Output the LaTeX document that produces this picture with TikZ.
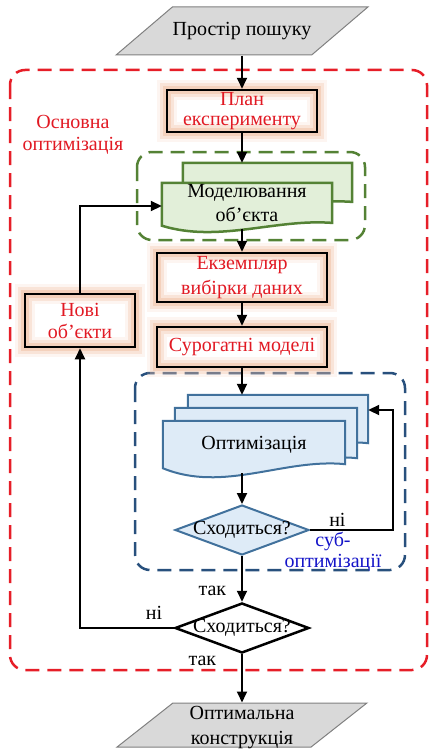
\documentclass[tikz,border=0pt]{standalone}
\usepackage{fontspec}
\setmainfont{Liberation Serif}
\usetikzlibrary{shapes.geometric,arrows.meta,calc}
\pgfdeclarelayer{background}
\pgfsetlayers{background,main}

\definecolor{glow}{RGB}{240,190,160}
\definecolor{redtxt}{RGB}{225,25,35}
\definecolor{reddash}{RGB}{230,30,40}
\definecolor{grayfill}{RGB}{217,217,217}
\definecolor{grayline}{RGB}{128,128,128}
\definecolor{greenfill}{RGB}{226,239,217}
\definecolor{greenline}{RGB}{84,130,53}
\definecolor{bluefill}{RGB}{222,235,247}
\definecolor{blueline}{RGB}{65,113,156}
\definecolor{bluedash}{RGB}{40,80,125}
\definecolor{subblue}{RGB}{20,20,200}

\newcommand{\docpath}[3]{%
  \path[#3] (#1.north west) -- (#1.north east) -- ($(#1.south east)+(0pt,0.9*#2pt)$)
    .. controls ($(#1.south west)!0.667!(#1.south east)+(0pt,1.53*#2pt)$)
    and ($(#1.south west)!0.333!(#1.south east)+(0pt,-2*#2pt)$)
    .. ($(#1.south west)+(0pt,0.5*#2pt)$) -- cycle;}
\newcommand{\lead}[1]{\fontsize{20}{#1}\selectfont}

\tikzset{
  every node/.style={font=\fontsize{20}{25}\selectfont, align=center, inner sep=0pt},
  io/.style={trapezium, trapezium left angle=68, trapezium right angle=112,
    trapezium stretches=true, inner sep=3pt, draw=grayline, fill=grayfill, line width=1pt},
  glowbox/.style={rectangle, draw=black, line width=2.5pt, text=redtxt,
    preaction={draw=glow, line width=20pt, opacity=0.15},
    preaction={draw=glow, line width=14pt, opacity=0.3},
    preaction={draw=glow, line width=8pt, opacity=0.5}},
  docbox/.style={rectangle},
  check/.style={diamond, inner sep=3pt, minimum width=134pt, minimum height=50pt},
  link/.style={line width=1.8pt, -{Triangle[length=11pt,width=10pt]}},
  frame/.style={dash pattern=on 14pt off 8pt, line width=2.5pt, rounded corners=15pt},
  greendoc/.style={fill=greenfill, draw=greenline, line width=2.5pt},
  bluedoc/.style={fill=bluefill, draw=blueline, line width=2pt}
}

\begin{document}
\begin{tikzpicture}[x=1pt,y=-1pt]
\useasboundingbox (0,0) rectangle (429,752);

\node[io, minimum width=252pt, minimum height=48pt, label={center:Простір пошуку}] (space) at (242,31) {};
\node[glowbox, minimum width=150pt, minimum height=42pt, font=\lead{20}] (plan) at (242,111) {План\\експерименту};
\node[docbox, minimum width=169pt, minimum height=45pt] (modelb) at (267.5,185.5) {};
\node[docbox, minimum width=170pt, minimum height=46pt, font=\lead{24}, text depth=7pt] (model) at (247,206) {Моделювання\\об’єкта};
\node[glowbox, minimum width=170pt, minimum height=49pt] (sample) at (242,277.5) {Екземпляр\\вибірки даних};
\node[glowbox, minimum width=170pt, minimum height=40pt] (surr) at (242,347) {Сурогатні моделі};
\node[glowbox, minimum width=110pt, minimum height=53pt, font=\lead{22}] (new) at (80,320.5) {Нові\\об’єкти};
\node[docbox, minimum width=180pt, minimum height=57pt] (optb) at (278,423.5) {};
\node[docbox, minimum width=182pt, minimum height=59pt] (optm) at (266,437.5) {};
\node[docbox, minimum width=182pt, minimum height=52pt, text depth=8pt] (opt) at (254,447) {Оптимізація};
\node[check, fill=bluefill, draw=blueline, line width=2pt, label={center:Сходиться?}] (check) at (242,530) {};
\node[check, fill=white, draw=black, line width=2.5pt, label={center:Сходиться?}] (final) at (242,628) {};
\node[io, minimum width=250pt, minimum height=44pt, label={[yshift=-3pt]center:{Оптимальна\\конструкція}}] (result) at (242,725) {};
\node[text=redtxt, font=\lead{22}] (mainlbl) at (73,134.5) {Основна\\оптимізація};
\node[text=subblue, font=\lead{21}] (sublbl) at (333,552) {суб-\\оптимізації};
\coordinate (back) at (393,410);

\begin{pgfonlayer}{background}
\draw[frame, draw=reddash] (10,70) rectangle (427,670);
\draw[frame, draw=greenline] (137,152) rectangle (365,240);
\draw[frame, draw=bluedash] (135,373) rectangle (405,570);
\docpath{modelb}{7}{greendoc}
\docpath{model}{7}{greendoc}
\docpath{optb}{10}{bluedoc}
\docpath{optm}{10}{bluedoc}
\docpath{opt}{10}{bluedoc}
\end{pgfonlayer}

\draw[link] (space.south) -- (plan.north);
\draw[link] (plan.south) -- (plan.south |- modelb.north);
\draw[link] (sample.north |- model.south) -- (sample.north);
\draw[link] (sample.south) -- (surr.north);
\draw[link] (surr.south) -- (surr.south |- optb.north);
\draw[link] (check.north |- opt.south) -- (check.north);
\draw[link] (check.east) -- node[pos=0.33, above=3pt]{ні} (check.east -| back) -- (back) -- (back -| optb.east);
\draw[link] (check.south) -- node[pos=0.77, left=15pt]{так} (final.north);
\draw[link] (final.west) -- node[pos=0.21, above=8pt]{ні} (final.west -| new.south) -- (new.south);
\draw[link] (new.north) |- (model.west);
\draw[link] (final.south) -- node[pos=0.14, left=25pt]{так} (result.north);
\end{tikzpicture}
\end{document}
